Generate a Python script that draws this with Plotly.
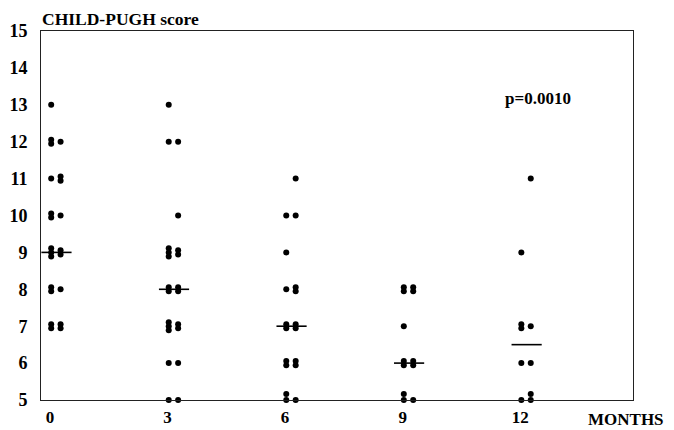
import plotly.graph_objects as go

# Data (Child-Pugh score by month)
months = [0, 3, 6, 9, 12]
tick_labels = ["0", "3", "6", "9", "12"]
y_ticks = [5, 6, 7, 8, 9, 10, 11, 12, 13, 14, 15]

left_scores = [
    [13, 12, 12, 11, 10, 10, 9, 9, 9, 8, 8, 7, 7],
    [13, 12, 9, 9, 9, 8, 8, 7, 7, 7, 6, 5],
    [10, 9, 8, 7, 7, 6, 6, 5, 5],
    [8, 8, 7, 6, 6, 5, 5],
    [9, 7, 7, 6, 5],
]
right_scores = [
    [12, 11, 11, 10, 9, 9, 8, 7, 7],
    [12, 10, 9, 9, 8, 8, 7, 7, 6, 5],
    [11, 10, 8, 8, 7, 7, 6, 6, 5],
    [8, 8, 6, 6, 5],
    [11, 7, 6, 5, 5],
]
medians = [9, 8, 7, 6, 6.5]
p_text = "p=0.0010"

FONT = "Liberation Serif"
COL_OFF = [0.03, 0.27]


def stacked(xbase, scores):
    xs, ys = [], []
    counts = {}
    for s in scores:
        counts[s] = counts.get(s, 0) + 1
    seen = {}
    for s in scores:
        k = seen.get(s, 0)
        seen[s] = k + 1
        n = counts[s]
        off = (k - (n - 1) / 2) * 0.11
        if s == 5:
            off = k * 0.16
        xs.append(xbase)
        ys.append(s + off)
    return xs, ys


px, py = [], []
for m, ls, rs in zip(months, left_scores, right_scores):
    x1, y1 = stacked(m + COL_OFF[0], ls)
    x2, y2 = stacked(m + COL_OFF[1], rs)
    px += x1 + x2
    py += y1 + y2

mx, my = [], []
for m, med in zip(months, medians):
    mx += [m - 0.22, m + 0.55, None]
    my += [med, med, None]

fig = go.Figure()
fig.add_trace(go.Scatter(x=mx, y=my, mode="lines",
                         line=dict(color="black", width=1.6),
                         hoverinfo="skip", showlegend=False, cliponaxis=False))
fig.add_trace(go.Scatter(x=px, y=py, mode="markers",
                         marker=dict(color="black", size=6),
                         showlegend=False, cliponaxis=False))

fig.add_annotation(x=0, y=1, xref="paper", yref="paper", xanchor="left",
                   yanchor="middle", yshift=12, showarrow=False,
                   text="CHILD-PUGH score", borderpad=0,
                   font=dict(family=FONT, size=17.5, color="black", weight="bold"))
fig.add_annotation(x=12.46, y=13.16, showarrow=False, text=p_text,
                   font=dict(family=FONT, size=17, color="black", weight="bold"))
fig.add_annotation(x=1, y=0, xref="paper", yref="paper", xanchor="right",
                   xshift=32, yanchor="middle", yshift=-19, showarrow=False,
                   text="MONTHS", borderpad=0,
                   font=dict(family=FONT, size=17, color="black", weight="bold"))

fig.update_xaxes(range=[-0.23, 14.88], tickmode="array", tickvals=months,
                 ticktext=tick_labels, showgrid=False, zeroline=False,
                 showline=True, mirror=True, linecolor="#222", linewidth=1,
                 ticks="", ticklabelstandoff=2, automargin=False,
                 tickfont=dict(family=FONT, size=17, color="black", weight="bold"))
fig.update_yaxes(range=[5, 15], tickmode="array", tickvals=y_ticks,
                 showgrid=False, zeroline=False,
                 showline=True, mirror=True, linecolor="#222", linewidth=1,
                 ticks="", ticklabelstandoff=9, automargin=False,
                 tickfont=dict(family=FONT, size=18, color="black", weight="bold"))

# page body adds an 8px offset, so the figure is sized to fit the window
fig.update_layout(width=666, height=422, margin=dict(l=33, r=41, t=23, b=30),
                  plot_bgcolor="white", paper_bgcolor="white")

fig.write_html("out.html")
